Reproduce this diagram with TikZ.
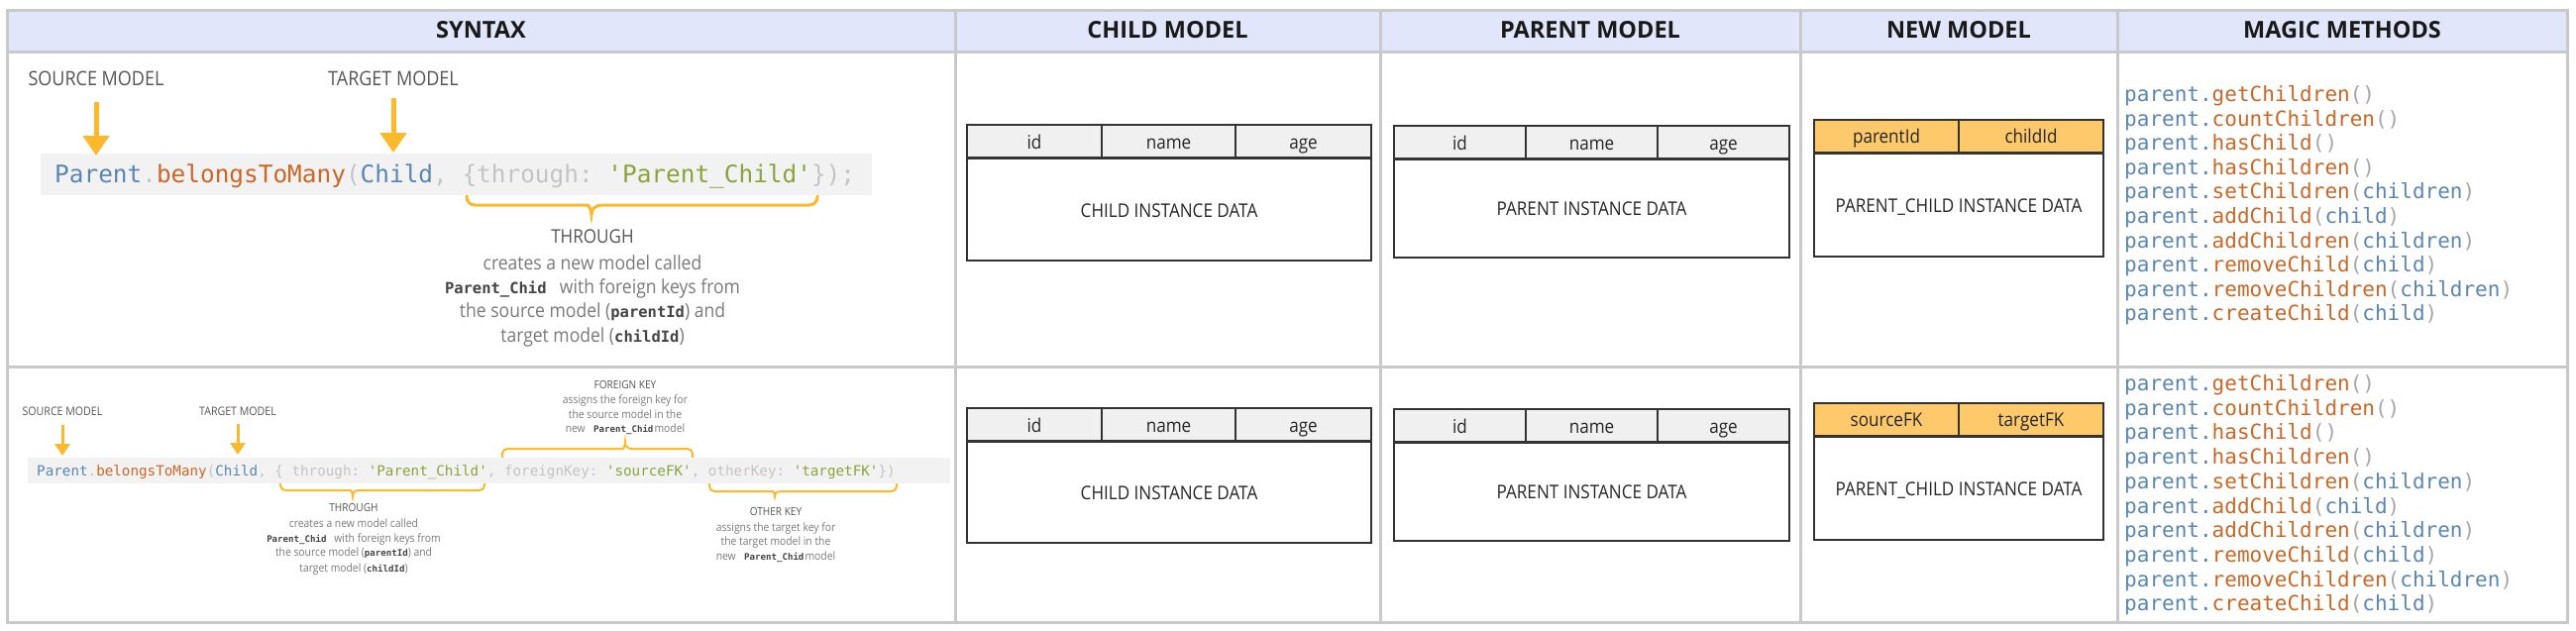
\documentclass[tikz,border=0pt]{standalone}
\usepackage{fontspec}
\setmainfont{Open Sans}[FakeStretch=0.9]
\newfontfamily\hdfont{Open Sans}
\setmonofont{DejaVu Sans Mono}
\usetikzlibrary{arrows.meta}
\frenchspacing
\definecolor{gridc}{HTML}{C9C9C9}
\definecolor{hdr}{HTML}{E1E6FA}
\definecolor{arr}{HTML}{FCB92C}
\definecolor{cbg}{HTML}{F2F2F2}
\definecolor{cblue}{HTML}{5A86B3}
\definecolor{corange}{HTML}{CB6726}
\definecolor{cgray}{HTML}{C4C4C4}
\definecolor{cgreen}{HTML}{8CA33B}
\definecolor{lbl}{HTML}{555555}
\definecolor{desc}{HTML}{7A7A7A}
\definecolor{kw}{HTML}{444444}
\definecolor{tbord}{HTML}{333333}
\definecolor{thead}{HTML}{F0F0F0}
\definecolor{nhead}{HTML}{FDC96B}
\definecolor{mgray}{HTML}{A6A6A6}
\newcommand\kwA[1]{{\ttfamily\bfseries\fontsize{15.5}{18}\selectfont\color{kw}#1}}
\newcommand\kwB[1]{{\ttfamily\bfseries\fontsize{9.1}{11}\selectfont\color{kw}#1}}
\newcommand\methline[2]{\textcolor{cblue}{parent.}\textcolor{corange}{#1}\textcolor{mgray}{(}\textcolor{cblue}{#2}\textcolor{mgray}{)}}
% brace: x1 x2 yend yh ytip xm radius halfwidth
\newcommand\mybrace[8]{%
  \draw[rounded corners=#7] (#1,#3) -- (#1,#4) -- (#6-#8,#4) [sharp corners]
    .. controls (#6-#8*0.3,#4) and (#6,{#4+(#5-#4)*0.35}) .. (#6,#5)
    .. controls (#6,{#4+(#5-#4)*0.35}) and (#6+#8*0.3,#4) .. (#6+#8,#4)
    [rounded corners=#7] -- (#2,#4) -- (#2,#3);}
\begin{document}
\begin{tikzpicture}[x=1pt,y=-1pt,
  grid/.style={draw=gridc,line width=3pt},
  hd/.style={font=\hdfont\bfseries\fontsize{23.5}{28}\selectfont,text=black!90,anchor=base,inner sep=0pt},
  lblA/.style={font=\fontsize{20}{24}\selectfont,text=lbl,anchor=base,inner sep=0pt},
  lblB/.style={font=\fontsize{11.8}{14}\selectfont,text=lbl,anchor=base,inner sep=0pt},
  dtA/.style={font=\fontsize{19}{23}\selectfont,text=lbl,anchor=base,inner sep=0pt},
  ddA/.style={font=\fontsize{19.5}{24}\selectfont,text=desc,anchor=base,inner sep=0pt},
  dtB/.style={font=\fontsize{11.2}{13}\selectfont,text=lbl,anchor=base,inner sep=0pt},
  ddB/.style={font=\fontsize{11.5}{14}\selectfont,text=desc,anchor=base,inner sep=0pt},
  codeA/.style={font=\ttfamily\fontsize{24.4}{28}\selectfont,anchor=base west,inner sep=0pt},
  codeB/.style={font=\ttfamily\fontsize{14.25}{17}\selectfont,anchor=base west,inner sep=0pt},
  meth/.style={font=\ttfamily\fontsize{21}{24}\selectfont,anchor=base west,inner sep=0pt},
  arrA/.style={draw=arr,line width=5pt,-{Triangle[width=26pt,length=20pt]}},
  arrB/.style={draw=arr,line width=3pt,-{Triangle[width=15pt,length=12pt]}},
  braceA/.style={draw=arr,line width=3pt},
  braceB/.style={draw=arr,line width=2pt},
  tbox/.style={draw=tbord,line width=2pt},
  tsep/.style={draw=tbord,line width=3pt},
  tcol/.style={draw=tbord,line width=1.5pt},
  th/.style={font=\fontsize{19}{23}\selectfont,text=black!85,anchor=base,inner sep=0pt},
  tb/.style={font=\fontsize{19}{23}\selectfont,text=black!85,anchor=base,inner sep=0pt},
]
\useasboundingbox (0,0) rectangle (2600,637);
\fill[white] (0,0) rectangle (2600,637);
% grid
\fill[hdr] (7,10) rectangle (2591,52);
\draw[grid] (7,10) rectangle (2591,628);
\draw[grid] (7,52) -- (2591,52);
\draw[grid] (7,370) -- (2591,370);
\foreach \xx in {964,1393,1817,2137} \draw[grid] (\xx,10) -- (\xx,628);
% headers
\node[hd] (hSyntax) at (485.5,38.5) {SYNTAX};
\node[hd] (hChild) at (1178.5,38.5) {CHILD MODEL};
\node[hd] (hParent) at (1605,38.5) {PARENT MODEL};
\node[hd] (hNew) at (1977,38.5) {NEW MODEL};
\node[hd] (hMagic) at (2364,38.5) {MAGIC METHODS};

% ===== row 1 syntax =====
\fill[cbg] (41,155) rectangle (880,197);
\node[codeA] (code1) at (55,184) {\textcolor{cblue}{Parent}\textcolor{cgray}{.}\textcolor{corange}{belongsToMany}\textcolor{cgray}{(}\textcolor{cblue}{Child}\textcolor{cgray}{, \{through: }\textcolor{cgreen}{'Parent\_Child'}\textcolor{cgray}{\});}};
\node[lblA] (src1) at (97,86) {SOURCE MODEL};
\node[lblA] (tgt1) at (397,86) {TARGET MODEL};
\coordinate (a1s) at (97,103); \coordinate (a1e) at (97,157);
\coordinate (a2s) at (397,99); \coordinate (a2e) at (397,154);
\draw[arrA] (a1s) -- (a1e);
\draw[arrA] (a2s) -- (a2e);
\begin{scope}[braceA]
\mybrace{471}{825}{197}{207}{217}{597}{8}{12}
\end{scope}
\node[dtA] (thr1) at (598,245) {THROUGH};
\node[ddA] (d1a) at (598,272) {creates a new model called};
\node[ddA] (d1b) at (598,296) {\kwA{Parent\_Chid}\hspace{0.45em} with foreign keys from};
\node[ddA] (d1c) at (598,320) {the source model (\kwA{parentId}) and};
\node[ddA] (d1d) at (598,345) {target model (\kwA{childId})};

% ===== row 2 syntax =====
\fill[cbg] (28,462) rectangle (959,488);
\node[codeB] (code2) at (37,480) {\textcolor{cblue}{Parent}\textcolor{cgray}{.}\textcolor{corange}{belongsToMany}\textcolor{cgray}{(}\textcolor{cblue}{Child}\textcolor{cgray}{, \{ through: }\textcolor{cgreen}{'Parent\_Child'}\textcolor{cgray}{, foreignKey: }\textcolor{cgreen}{'sourceFK'}\textcolor{cgray}{, otherKey: }\textcolor{cgreen}{'targetFK'}\textcolor{cgray}{\})}};
\node[lblB] (src2) at (63,419) {SOURCE MODEL};
\node[lblB] (tgt2) at (240,419) {TARGET MODEL};
\coordinate (b1s) at (63,429); \coordinate (b1e) at (63,460);
\coordinate (b2s) at (240,428); \coordinate (b2e) at (240,459);
\draw[arrB] (b1s) -- (b1e);
\draw[arrB] (b2s) -- (b2e);
\begin{scope}[braceB]
\mybrace{283}{489}{488}{495}{501}{356}{5}{7}
\mybrace{507}{699}{462}{453}{446}{631}{5}{7}
\mybrace{716}{905}{488}{496}{501}{782}{5}{7}
\end{scope}
\node[dtB] (thr2) at (357,516.5) {THROUGH};
\node[ddB] (d2a) at (357,532) {creates a new model called};
\node[ddB] (d2b) at (357,547) {\kwB{Parent\_Chid}\hspace{0.45em} with foreign keys from};
\node[ddB] (d2c) at (357,561) {the source model (\kwB{parentId}) and};
\node[ddB] (d2d) at (357,577) {target model (\kwB{childId})};
\node[dtB] (fk) at (631,392) {FOREIGN KEY};
\node[ddB] (fka) at (631,407) {assigns the foreign key for};
\node[ddB] (fkb) at (631,422) {the source model in the};
\node[ddB] (fkc) at (631,436) {new\hspace{0.5em} \kwB{Parent\_Chid}\hspace{0.1em}model};
\node[dtB] (ok) at (783,520) {OTHER KEY};
\node[ddB] (oka) at (783,536) {assigns the target key for};
\node[ddB] (okb) at (783,550) {the target model in the};
\node[ddB] (okc) at (783,565) {new\hspace{0.5em} \kwB{Parent\_Chid}\hspace{0.1em}model};

% ===== tables row 1 =====
% child
\fill[thead] (976,126) rectangle (1384,159);
\draw[tcol] (1112,126) -- (1112,159) (1247,126) -- (1247,159);
\draw[tbox] (976,126) rectangle (1384,263);
\draw[tsep] (976,159) -- (1384,159);
\node[th] (c1id) at (1044,150) {id};
\node[th] (c1name) at (1179.5,150) {name};
\node[th] (c1age) at (1315.5,150) {age};
\node[tb] (c1data) at (1180,219) {CHILD INSTANCE DATA};
% parent
\fill[thead] (1407,127) rectangle (1806,160);
\draw[tcol] (1540,127) -- (1540,160) (1673,127) -- (1673,160);
\draw[tbox] (1407,127) rectangle (1806,260);
\draw[tsep] (1407,160) -- (1806,160);
\node[th] (p1id) at (1473.5,151) {id};
\node[th] (p1name) at (1606.5,151) {name};
\node[th] (p1age) at (1739.5,151) {age};
\node[tb] (p1data) at (1606.5,217) {PARENT INSTANCE DATA};
% new
\fill[nhead] (1831,121) rectangle (2123,154);
\draw[tcol] (1977,121) -- (1977,154);
\draw[tbox] (1831,121) rectangle (2123,259);
\draw[tsep] (1831,154) -- (2123,154);
\node[th] (n1a) at (1904,144) {parentId};
\node[th] (n1b) at (2050,144) {childId};
\node[tb] (n1data) at (1977,214) {PARENT\_CHILD INSTANCE DATA};

% ===== tables row 2 =====
\fill[thead] (976,412) rectangle (1384,445);
\draw[tcol] (1112,412) -- (1112,445) (1247,412) -- (1247,445);
\draw[tbox] (976,412) rectangle (1384,548);
\draw[tsep] (976,445) -- (1384,445);
\node[th] (c2id) at (1044,436) {id};
\node[th] (c2name) at (1179.5,436) {name};
\node[th] (c2age) at (1315.5,436) {age};
\node[tb] (c2data) at (1180,504) {CHILD INSTANCE DATA};
\fill[thead] (1407,413) rectangle (1806,446);
\draw[tcol] (1540,413) -- (1540,446) (1673,413) -- (1673,446);
\draw[tbox] (1407,413) rectangle (1806,546);
\draw[tsep] (1407,446) -- (1806,446);
\node[th] (p2id) at (1473.5,437) {id};
\node[th] (p2name) at (1606.5,437) {name};
\node[th] (p2age) at (1739.5,437) {age};
\node[tb] (p2data) at (1606.5,503) {PARENT INSTANCE DATA};
\fill[nhead] (1831,407) rectangle (2123,440);
\draw[tcol] (1977,407) -- (1977,440);
\draw[tbox] (1831,407) rectangle (2123,545);
\draw[tsep] (1831,440) -- (2123,440);
\node[th] (n2a) at (1904,430) {sourceFK};
\node[th] (n2b) at (2050,430) {targetFK};
\node[tb] (n2data) at (1977,500) {PARENT\_CHILD INSTANCE DATA};

% ===== magic methods =====
\foreach \nm/\ar [count=\i] in {getChildren/,countChildren/,hasChild/,hasChildren/,setChildren/children,addChild/child,addChildren/children,removeChild/child,removeChildren/children,createChild/child}{
  \node[meth] (mA\i) at (2144,{102.5+24.6*(\i-1)}) {\methline{\nm}{\ar}};
  \node[meth] (mB\i) at (2144,{394.5+24.7*(\i-1)}) {\methline{\nm}{\ar}};
}
\end{tikzpicture}
\end{document}
